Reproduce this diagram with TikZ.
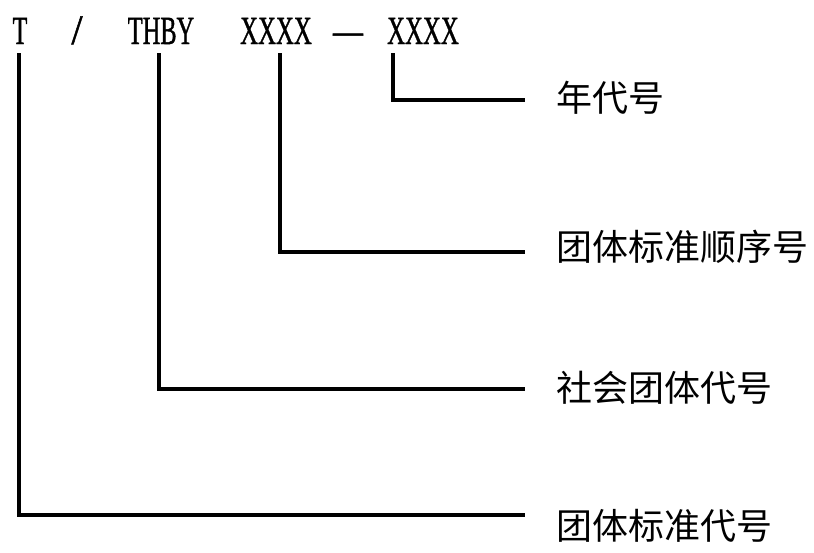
\documentclass[tikz,border=0pt]{standalone}
\usepackage{fontspec}
\setmainfont{Liberation Serif}
\newfontfamily\cjk{Noto Sans CJK SC}
\font\codef="Liberation Serif:embolden=1.2" at 40pt
\begin{document}
\begin{tikzpicture}[x=1pt,y=-1pt,
  code/.style={inner sep=0pt,anchor=base,font=\codef},
  lab/.style={inner sep=0pt,anchor=west,font=\cjk\fontsize{36}{36}\selectfont},
  conn/.style={line width=4pt,line cap=butt,line join=miter}]
\useasboundingbox (0,0) rectangle (814,552);
% top code text
\node[code] (t) at (20,44) {\scalebox{0.6}[1]{T}};
\node[code] (slash) at (77,44) {\scalebox{1.0}[1.05]{/}};
\node[code] (thby) at (161,44) {\scalebox{0.61}[1]{THBY}};
\node[code] (xa) at (276,44) {\scalebox{0.62}[1]{XXXX}};
\node[code] (dash) at (348,44) {\scalebox{0.75}[1]{—}};
\node[code] (xb) at (423,44) {\scalebox{0.62}[1]{XXXX}};
% labels
\node[lab] (l4) at (556,98) {年代号};
\node[lab] (l3) at (556,247) {团体标准顺序号};
\node[lab] (l2) at (556,388) {社会团体代号};
\node[lab] (l1) at (556,526) {团体标准代号};
% connector anchor points
\coordinate (s1) at (19,53);
\coordinate (s2) at (159,53);
\coordinate (s3) at (280,53);
\coordinate (s4) at (393,53);
\coordinate (e4) at (525,100);
\coordinate (e3) at (525,252);
\coordinate (e2) at (525,389);
\coordinate (e1) at (525,515);
\draw[conn] (s4) |- (e4);
\draw[conn] (s3) |- (e3);
\draw[conn] (s2) |- (e2);
\draw[conn] (s1) |- (e1);
\end{tikzpicture}
\end{document}
